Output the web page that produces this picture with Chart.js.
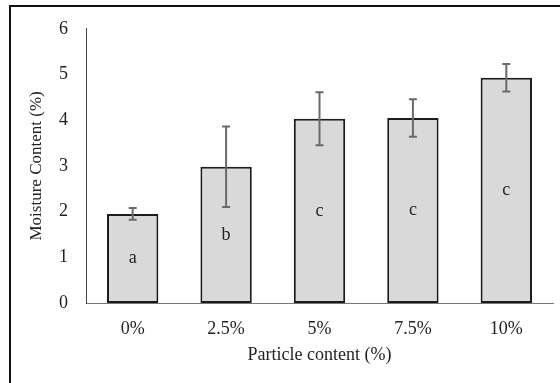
<!DOCTYPE html>
<html>
<head>
<meta charset="utf-8">
<script src="https://cdn.jsdelivr.net/npm/chart.js@4/dist/chart.umd.min.js"></script>
<style>
  html, body { margin: 0; padding: 0; background: #fff; overflow: hidden; }
  #wrap { position: relative; width: 560px; height: 383px; }
  #frame { position: absolute; left: 9px; top: 5px; width: 600px; height: 420px; border: 2px solid #111; box-sizing: border-box; }
  canvas { position: absolute; left: 0; top: 0; }
</style>
</head>
<body>
<div id="wrap">
  <div id="frame"></div>
  <canvas id="moistureChart" width="560" height="383"></canvas>
</div>
<script>
// Moisture content by particle loading
const categories = ['0%', '2.5%', '5%', '7.5%', '10%'];
const moisture = [1.95, 2.98, 4.03, 4.05, 4.93];
const errors = [0.13, 0.88, 0.58, 0.41, 0.30];
const groups = ['a', 'b', 'c', 'c', 'c'];
const yTicks = [0, 1, 2, 3, 4, 5, 6];

const serif = '"Liberation Serif", "Times New Roman", serif';

// Draws the error bars and the significance letters on top of the bars
const barExtras = {
  id: 'barExtras',
  afterDatasetsDraw(chart) {
    const { ctx, scales: { x, y } } = chart;
    ctx.save();
    ctx.strokeStyle = '#6a6a6a';
    ctx.lineWidth = 2;
    moisture.forEach((v, i) => {
      const cx = x.getPixelForValue(i);
      const top = y.getPixelForValue(v + errors[i]);
      const bot = y.getPixelForValue(v - errors[i]);
      ctx.beginPath();
      ctx.moveTo(cx, top);
      ctx.lineTo(cx, bot);
      ctx.moveTo(cx - 4, top);
      ctx.lineTo(cx + 4, top);
      ctx.moveTo(cx - 4, bot);
      ctx.lineTo(cx + 4, bot);
      ctx.stroke();
    });
    ctx.fillStyle = '#222';
    ctx.font = '18px ' + serif;
    ctx.textAlign = 'center';
    ctx.textBaseline = 'middle';
    groups.forEach((g, i) => {
      ctx.fillText(g, x.getPixelForValue(i), y.getPixelForValue(moisture[i] / 2));
    });
    ctx.restore();
  }
};

new Chart(document.getElementById('moistureChart'), {
  type: 'bar',
  data: {
    labels: categories,
    datasets: [{
      data: moisture,
      backgroundColor: '#d9d9d9',
      borderColor: '#1c1c1c',
      borderWidth: 2,
      borderSkipped: false,
      categoryPercentage: 0.55,
      barPercentage: 1.0
    }]
  },
  options: {
    responsive: false,
    animation: false,
    events: [],
    layout: { padding: { top: 26, right: 7, bottom: 0, left: 26 } },
    plugins: {
      legend: { display: false },
      tooltip: { enabled: false }
    },
    scales: {
      x: {
        grid: { display: false, drawTicks: false },
        border: { color: '#777', width: 1 },
        ticks: { color: '#222', padding: 15, font: { family: serif, size: 18 } },
        title: {
          display: true,
          text: 'Particle content (%)',
          color: '#222',
          font: { family: serif, size: 18 },
          padding: { top: 0, bottom: 17 }
        },
        afterFit(scale) { scale.height = 80; }
      },
      y: {
        min: 0,
        max: 6,
        afterBuildTicks(scale) { scale.ticks = yTicks.map(v => ({ value: v })); },
        grid: { display: false, drawTicks: false },
        border: { color: '#444', width: 1 },
        ticks: { color: '#222', padding: 18, font: { family: serif, size: 18 } },
        title: {
          display: true,
          text: 'Moisture Content (%)',
          color: '#222',
          font: { family: serif, size: 17 },
          padding: { top: 0, bottom: 0 }
        },
        afterFit(scale) { scale.width = 60; }
      }
    }
  },
  plugins: [barExtras]
});
</script>
</body>
</html>
